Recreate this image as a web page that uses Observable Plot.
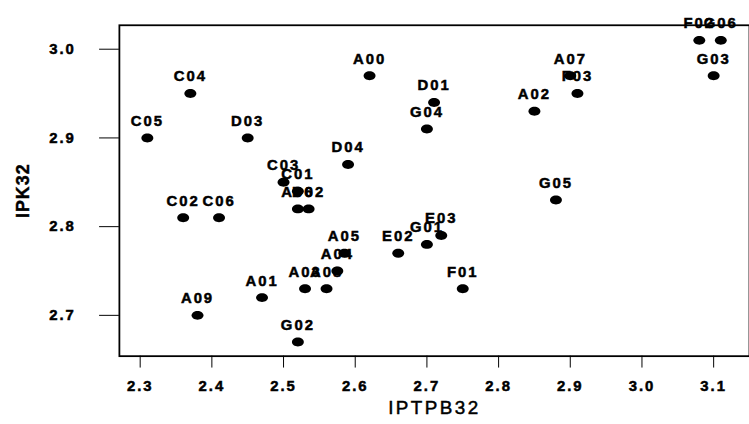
<!DOCTYPE html>
<html><head><meta charset="utf-8">
<script src="https://cdn.jsdelivr.net/npm/d3@7"></script>
<script src="https://cdn.jsdelivr.net/npm/@observablehq/plot@0.6"></script>
<style>
body{margin:0;background:#fff}
#c{width:749px;height:424px;overflow:hidden;position:relative}
#c svg{display:block}
</style>
</head><body><div id="c"></div>
<script>
const names = ["A00","A01","A02","A03","A04","A05","A06","A07","A08","A09",
  "C01","C02","C03","C04","C05","C06",
  "D01","D02","D03","D04",
  "E02","E03",
  "F01","F02","F03",
  "G01","G02","G03","G04","G05","G06"];
const iptpb32 = [2.62,2.47,2.85,2.53,2.575,2.585,2.52,2.90,2.56,2.38,
  2.52,2.36,2.50,2.37,2.31,2.41,
  2.71,2.535,2.45,2.59,
  2.66,2.72,
  2.75,3.08,2.91,
  2.70,2.52,3.10,2.70,2.88,3.11];
const ipk32 = [2.97,2.72,2.93,2.73,2.75,2.77,2.82,2.97,2.73,2.70,
  2.84,2.81,2.85,2.95,2.90,2.81,
  2.94,2.82,2.90,2.87,
  2.77,2.79,
  2.73,3.01,2.95,
  2.78,2.67,2.97,2.91,2.83,3.01];
const xTicks = [2.3,2.4,2.5,2.6,2.7,2.8,2.9,3.0,3.1];
const yTicks = [2.7,2.8,2.9,3.0];

const data = names.map((n,i)=>({name:n, x:iptpb32[i], y:ipk32[i]}));

// filled ellipse symbol (wider than tall), like the reference's dots
const ellipse = {
  draw(ctx, size) {
    const r = Math.sqrt(size / Math.PI), rx = r * 1.2, ry = r * 0.9, k = 0.5523;
    ctx.moveTo(rx, 0);
    ctx.bezierCurveTo(rx, ry * k, rx * k, ry, 0, ry);
    ctx.bezierCurveTo(-rx * k, ry, -rx, ry * k, -rx, 0);
    ctx.bezierCurveTo(-rx, -ry * k, -rx * k, -ry, 0, -ry);
    ctx.bezierCurveTo(rx * k, -ry, rx, -ry * k, rx, 0);
    ctx.closePath();
  }
};

const chart = Plot.plot({
  width: 756, height: 424,
  marginLeft: 120, marginTop: 25, marginBottom: 65, marginRight: 0,
  x: {domain: [2.271, 3.15]},
  y: {domain: [2.654, 3.027]},
  style: {fontFamily: "'Liberation Sans', Arial, sans-serif", fontSize: "15px", fontWeight: "bold", color: "#000", background: "#fff"},
  marks: [
    Plot.frame({stroke: "#000", strokeWidth: 1.8}),
    Plot.axisX({ticks: xTicks, tickFormat: d => d.toFixed(1), tickSize: 12, tickPadding: 13,
      label: "IPTPB32", labelAnchor: "center", labelOffset: 58, labelArrow: "none"}),
    Plot.axisY({ticks: yTicks, tickFormat: d => d.toFixed(1), tickSize: 20, tickPadding: 24,
      label: "IPK32", labelAnchor: "center", labelOffset: 104, labelArrow: "none"}),
    Plot.dot(data, {x: "x", y: "y", r: 5, symbol: ellipse, fill: "#000", stroke: "none"}),
    Plot.text(data, {x: "x", y: "y", text: "name", dy: -17, fontSize: 15, fontWeight: "bold", fill: "#000"})
  ]
});
document.getElementById("c").appendChild(chart);
const svg = d3.select(chart);
svg.selectAll("text").style("letter-spacing", "2px").style("stroke", "#000").style("stroke-width", "0.5px");
svg.selectAll("[aria-label='x-axis label'] text")
  .style("font-size", "19px").style("font-weight", "normal").style("letter-spacing", "2.5px").style("stroke-width", "0.5px");
svg.selectAll("[aria-label='y-axis label'] text")
  .style("font-size", "18px").style("letter-spacing", "1px").style("stroke-width", "0.4px");
</script>
</body></html>
